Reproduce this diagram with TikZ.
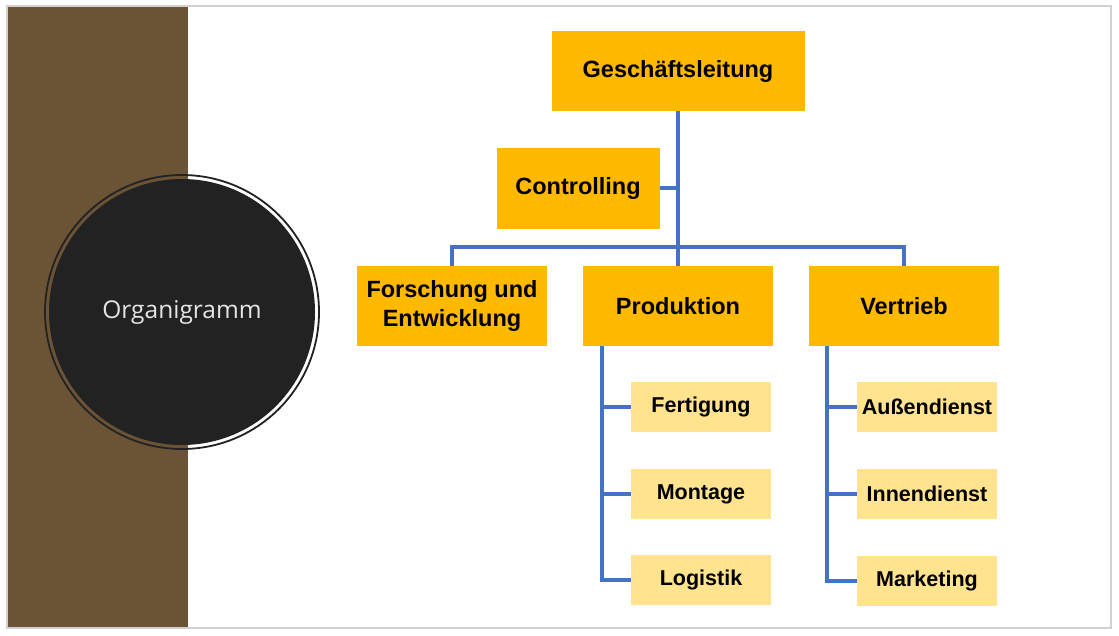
\documentclass[tikz,border=0pt]{standalone}
\usepackage{fontspec}
\setmainfont{Liberation Sans}
\newfontfamily\titlefont{Open Sans}
\usepackage{tikz}
\definecolor{band}{HTML}{6B5436}
\definecolor{disc}{HTML}{222222}
\definecolor{gold}{HTML}{FFB900}
\definecolor{lightgold}{HTML}{FFE38F}
\definecolor{link}{HTML}{4472C4}
\tikzset{
	mainbox/.style={fill=gold, inner sep=2pt, align=center, font=\fontsize{23.5}{29}\selectfont\bfseries, minimum width=190pt, minimum height=80pt},
	subbox/.style={fill=lightgold, inner sep=1pt, font=\fontsize{21.5}{25}\selectfont\bfseries, minimum width=140pt, minimum height=50pt},
	conn/.style={draw=link, line width=3.5pt}
}

\begin{document}
\begin{tikzpicture}[x=1pt, y=-1pt]
	\useasboundingbox (0,0) rectangle (1119,635);
	\fill[white] (0,0) rectangle (1119,635);
	\fill[band] (7,7) rectangle (188,627);
	\draw[black!18, line width=1.3pt] (7,6) rectangle (1111,628);
	% title disc
	\draw[disc, line width=1.8pt] (182,312) circle (137);
	\node[circle, fill=disc, minimum size=266pt, text=black!10, font=\titlefont\fontsize{24.5}{29}\selectfont] (title) at (182,312) {Organigramm};
	% boxes
	\node[mainbox, minimum width=253pt] (gl) at (678,71) {Geschäftsleitung};
	\node[mainbox, minimum width=163pt, minimum height=81pt] (ctrl) at (578,188) {Controlling};
		\node[mainbox] (fe) at (452,306) {Forschung und\\Entwicklung};
		\node[mainbox] (prod) at (678,306) {Produktion};
		\node[mainbox] (vt) at (904,306) {Vertrieb};
			\node[subbox] (fert) at (701,407) {Fertigung};
			\node[subbox] (mont) at (701,494) {Montage};
			\node[subbox] (logi) at (701,580) {Logistik};
			\node[subbox] (ad) at (927,407) {Außendienst};
			\node[subbox] (id) at (927,494) {Innendienst};
			\node[subbox] (mk) at (927,581) {Marketing};
	\coordinate (bus) at (678,247);
	\coordinate (pl) at ([xshift=19pt]prod.south west);
	\coordinate (vl) at ([xshift=18pt]vt.south west);
	\draw[conn] (gl.south) -- (prod.north);
	\draw[conn] (ctrl.east) -- (ctrl.east -| gl.south);
	\draw[conn] (fe.north) -- (fe.north |- bus) -- (vt.north |- bus) -- (vt.north);
	\draw[conn] (pl) |- (logi.west);
	\draw[conn] (pl |- fert.west) -- (fert.west);
	\draw[conn] (pl |- mont.west) -- (mont.west);
	\draw[conn] (vl) |- (mk.west);
	\draw[conn] (vl |- ad.west) -- (ad.west);
	\draw[conn] (vl |- id.west) -- (id.west);
\end{tikzpicture}
\end{document}
